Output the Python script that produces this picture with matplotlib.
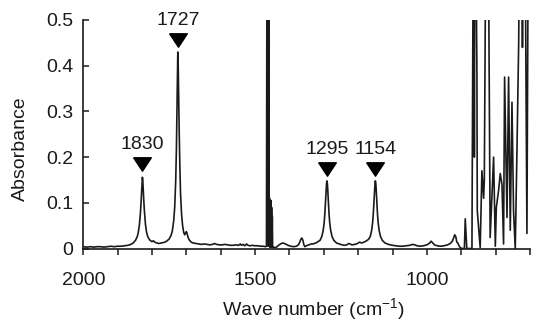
import matplotlib
matplotlib.use("Agg")
import matplotlib.pyplot as plt
from matplotlib.ticker import FixedLocator

plt.rcParams['font.family'] = ['Liberation Sans', 'DejaVu Sans']
plt.rcParams['mathtext.fontset'] = 'custom'
plt.rcParams['mathtext.rm'] = 'Liberation Sans'
plt.rcParams['mathtext.default'] = 'regular'

# ---- spectrum data (wavenumber, absorbance) ----
wavenumber = [
    2000, 1990, 1980, 1970, 1960, 1950, 1940, 1930, 1920, 1910, 1900, 1890, 1880, 1870,
    1862, 1855, 1848, 1843, 1840, 1837, 1834, 1832, 1830, 1829, 1828, 1827, 1826, 1824,
    1822, 1819, 1816, 1812, 1806, 1800, 1796, 1792, 1786, 1780, 1774, 1768, 1762, 1756,
    1750, 1745, 1741, 1737, 1734, 1731, 1729, 1727, 1726, 1725, 1724, 1723, 1721, 1719,
    1717, 1714, 1711, 1708, 1705, 1702, 1700, 1698, 1695, 1691, 1686, 1680, 1672, 1664,
    1656, 1648, 1640, 1632, 1624, 1618, 1612, 1604, 1596, 1588, 1580, 1572, 1564, 1556,
    1548, 1543, 1540, 1535, 1530, 1525, 1521, 1515, 1508, 1500, 1492, 1484, 1476, 1470,
    1467, 1465, 1464, 1463, 1462, 1460, 1459, 1458, 1457, 1456, 1455, 1454, 1453, 1452,
    1451, 1450, 1449, 1447, 1444, 1438, 1430, 1424, 1418, 1412, 1404, 1396, 1388, 1380,
    1374, 1370, 1367, 1364, 1361, 1358, 1355, 1351, 1344, 1336, 1331, 1321, 1311, 1306,
    1302, 1299, 1297, 1295, 1294, 1293, 1292, 1291, 1290, 1289, 1288, 1287, 1285, 1283,
    1280, 1276, 1271, 1263, 1255, 1247, 1240, 1233, 1228, 1224, 1218, 1210, 1202, 1196,
    1190, 1180, 1170, 1165, 1161, 1158, 1156, 1154, 1153, 1152, 1151, 1150, 1149, 1148,
    1147, 1146, 1144, 1142, 1139, 1135, 1130, 1122, 1112, 1100, 1090, 1080, 1070, 1060,
    1050, 1042, 1036, 1028, 1020, 1010, 1000, 992, 988, 984, 978, 970, 960, 950,
    940, 932, 926, 922, 919, 916, 913, 910, 906, 902, 895, 891, 888.5, 884,
    869, 864, 862, 860, 854.5, 853.5, 845, 840, 835, 833, 827, 825, 823, 816,
    806, 801, 798, 791.5, 786.6, 781.6, 777, 774, 767, 762.4, 757.5, 752.5, 748, 743,
    738, 733, 728, 722, 716, 709, 704, 700,
]
absorbance = [
    0.004, 0.003, 0.004, 0.003, 0.004, 0.004, 0.003, 0.004, 0.005, 0.004, 0.005, 0.005, 0.006, 0.007,
    0.009, 0.012, 0.018, 0.026, 0.035, 0.050, 0.075, 0.100, 0.130, 0.147, 0.156, 0.150, 0.135, 0.105,
    0.080, 0.052, 0.036, 0.025, 0.018, 0.015, 0.017, 0.014, 0.012, 0.011, 0.012, 0.013, 0.014, 0.017,
    0.021, 0.028, 0.038, 0.060, 0.090, 0.150, 0.220, 0.320, 0.380, 0.430, 0.410, 0.360, 0.260, 0.180,
    0.120, 0.075, 0.050, 0.036, 0.030, 0.034, 0.037, 0.033, 0.024, 0.018, 0.014, 0.012, 0.011, 0.010,
    0.009, 0.010, 0.009, 0.008, 0.009, 0.011, 0.009, 0.008, 0.008, 0.009, 0.008, 0.007, 0.007, 0.008,
    0.007, 0.010, 0.007, 0.009, 0.006, 0.010, 0.007, 0.006, 0.007, 0.006, 0.006, 0.005, 0.005, 0.004,
    0.005, 0.900, 0.010, 0.900, 0.005, 0.900, 0.005, 0.110, 0.003, 0.100, 0.004, 0.105, 0.003, 0.090,
    0.003, 0.070, 0.003, 0.003, 0.002, 0.003, 0.008, 0.011, 0.012, 0.010, 0.007, 0.005, 0.004, 0.005,
    0.008, 0.014, 0.020, 0.023, 0.018, 0.008, 0.004, 0.006, 0.008, 0.010, 0.010, 0.013, 0.018, 0.026,
    0.039, 0.057, 0.077, 0.104, 0.120, 0.134, 0.144, 0.148, 0.144, 0.134, 0.120, 0.104, 0.077, 0.057,
    0.039, 0.026, 0.018, 0.012, 0.010, 0.008, 0.007, 0.008, 0.011, 0.010, 0.008, 0.009, 0.011, 0.014,
    0.012, 0.015, 0.020, 0.026, 0.039, 0.057, 0.077, 0.104, 0.120, 0.134, 0.144, 0.148, 0.144, 0.134,
    0.120, 0.104, 0.077, 0.057, 0.039, 0.026, 0.018, 0.012, 0.009, 0.007, 0.006, 0.005, 0.005, 0.006,
    0.007, 0.009, 0.008, 0.006, 0.005, 0.006, 0.008, 0.012, 0.016, 0.013, 0.008, 0.006, 0.005, 0.006,
    0.008, 0.011, 0.016, 0.024, 0.030, 0.026, 0.014, 0.012, 0.005, 0.001, 0.000, 0.000, 0.065, 0.000,
    0.000, 0.900, 0.200, 0.900, 0.380, 0.083, 0.002, 0.170, 0.110, 0.150, 0.900, 0.600, 0.900, 0.024,
    0.200, 0.005, 0.090, 0.127, 0.164, 0.140, 0.010, 0.375, 0.068, 0.375, 0.040, 0.320, 0.083, 0.000,
    0.215, 0.450, 0.900, 0.440, 0.900, 0.033, 0.900, 0.900,
]

# ---- peak annotations ----
peak_labels = ['1830', '1727', '1295', '1154']
peak_pos = [1828, 1725, 1291, 1150]
marker_y = [0.186, 0.457, 0.175, 0.175]
label_y = [0.227, 0.499, 0.216, 0.216]

x_major = [2000, 1500, 1000]
x_minor = [1900, 1800, 1700, 1600, 1400, 1300, 1200, 1100, 900, 800, 700]
y_ticks = [0, 0.1, 0.2, 0.3, 0.4, 0.5]
y_ticklabels = ['0', '0.1', '0.2', '0.3', '0.4', '0.5']

FS = 14

fig = plt.figure(figsize=(5.43, 3.31), dpi=100)
ax = fig.add_axes([0.1534, 0.2492, 0.8227, 0.6904])

ax.plot(wavenumber, absorbance, color='#1a1a1a', linewidth=1.2)

tri = [(-1, 0.76), (1, 0.76), (0, -0.76), (-1, 0.76)]
ax.plot(peak_pos, marker_y, linestyle='none', marker=tri, markersize=12.7,
        color='black', clip_on=False)
for xp, yp, lab in zip(peak_pos, label_y, peak_labels):
    ax.text(xp, yp, lab, ha='center', va='center', fontsize=FS, clip_on=False,
            color='#1a1a1a')

ax.set_xlim(2000, 700)
ax.set_ylim(0, 0.5)
ax.set_xticks(x_major)
ax.set_xticklabels([str(v) for v in x_major])
ax.xaxis.set_minor_locator(FixedLocator(x_minor))
ax.set_yticks(y_ticks)
ax.set_yticklabels(y_ticklabels)

for s in ['top', 'right']:
    ax.spines[s].set_visible(False)
for s in ['left', 'bottom']:
    ax.spines[s].set_linewidth(1.2)
    ax.spines[s].set_color('#1a1a1a')

ax.tick_params(axis='x', which='both', direction='out', length=4, width=1.1,
               labelsize=FS, pad=13, colors='#1a1a1a')
ax.tick_params(axis='y', which='both', direction='in', length=4, width=1.1,
               labelsize=FS, pad=7, colors='#1a1a1a')

fig.text(0.577, 0.0665, 'Wave number (cm$^{-1}$)', ha='center', va='center',
         fontsize=FS, color='#1a1a1a')
fig.text(0.0368, 0.5514, 'Absorbance', ha='center', va='center', rotation=90,
         fontsize=FS, color='#1a1a1a')

fig.savefig('out.png', dpi=100)
